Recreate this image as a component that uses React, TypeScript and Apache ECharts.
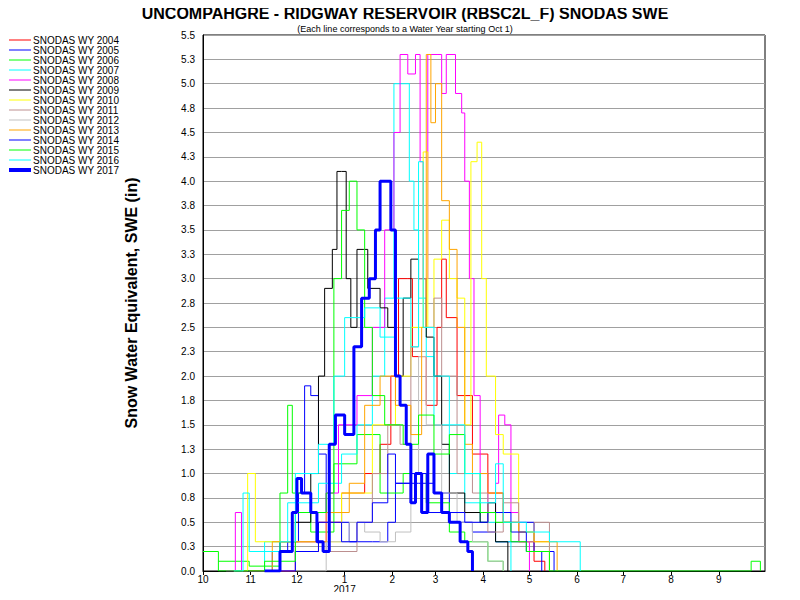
import React, { useEffect, useRef } from "react";
import * as echarts from "echarts";

const names = ["SNODAS WY 2004","SNODAS WY 2005","SNODAS WY 2006","SNODAS WY 2007","SNODAS WY 2008","SNODAS WY 2009","SNODAS WY 2010","SNODAS WY 2011","SNODAS WY 2012","SNODAS WY 2013","SNODAS WY 2014","SNODAS WY 2015","SNODAS WY 2016","SNODAS WY 2017"];
const colors = ["#ff0000","#0000ff","#00ff00","#00ffff","#ff00ff","#000000","#ffff00","#bc8f8f","#c0c0c0","#ffa500","#0000ff","#00ff00","#00ffff","#0000ff"];

const wy2004 = [[40,0],[60,0.2],[75,0.5],[90,0.8],[105,1.0],[115,1.3],[122,2.0],[127,3.0],[133,3.0],[136,2.2],[145,1.7],[152,2.5],[155,3.2],[158,2.6],[165,1.8],[175,1.2],[185,0.8],[195,0.5],[205,0.3],[215,0.1],[222,0]];
const wy2005 = [[30,0],[45,0.2],[55,0.3],[62,0.8],[66,1.9],[70,1.8],[75,1.2],[80,0.6],[90,0.5],[95,0.3],[110,0.3],[120,0.5],[125,0.9],[140,0.9],[150,0.8],[160,0.5],[175,0.4],[190,0.3],[205,0.5],[215,0.2],[228,0]];
const wy2006 = [[10,0.1],[30,0.05],[50,0.8],[55,1.7],[58,0.8],[70,0.4],[85,1.1],[100,1.4],[115,0.8],[130,1.0],[145,0.7],[160,0.4],[170,0.3],[185,0.1],[195,0]];
const wy2007 = [[20,0],[40,0.3],[55,0.7],[75,0.9],[90,1.2],[100,1.5],[110,2.0],[118,2.8],[124,5.0],[131,5.0],[134,4.0],[137,3.5],[140,2.8],[145,2.2],[150,1.5],[160,1.0],[170,0.7],[180,0.5],[190,0.3],[200,0]];
const wy2008 = [[15,0],[21,0.6],[25,0],[60,0.3],[80,0.8],[88,1.5],[100,1.8],[110,2.5],[118,3.5],[124,4.5],[128,5.3],[133,5.1],[138,5.3],[141,4.2],[143,3.0],[146,5.3],[152,5.3],[155,4.9],[158,5.3],[163,5.3],[164,4.9],[168,4.7],[170,4.0],[173,3.0],[176,1.8],[180,1.0],[185,0.6],[190,0.9],[192,1.6],[196,1.5],[200,0.6],[205,0.3],[212,0]];
const wy2009 = [[20,0],[50,0.3],[60,0.5],[70,1.0],[75,2.0],[79,2.9],[84,3.3],[87,4.1],[90,4.1],[93,3.0],[96,2.5],[100,3.3],[104,3.3],[107,2.9],[115,2.7],[120,2.5],[125,2.0],[130,2.8],[135,3.2],[140,3.0],[145,2.4],[150,2.0],[155,1.3],[160,0.8],[170,0.6],[180,0.5],[185,0.7],[190,0.3],[198,0]];
const wy2010 = [[20,0],[29,1.0],[34,0.3],[60,0.3],[90,0.8],[110,1.5],[125,2.0],[135,2.5],[143,4.3],[146,2.5],[150,3.2],[155,3.6],[160,3.0],[165,2.8],[170,1.5],[174,4.2],[178,4.4],[181,3.0],[184,2.0],[190,1.4],[195,1.2],[205,0.4],[215,0.3],[225,0]];
const wy2011 = [[50,0],[60,0.3],[80,0.2],[100,0.5],[110,1.0],[120,1.5],[128,1.3],[135,2.3],[140,3.0],[145,2.5],[150,2.8],[155,2.0],[165,1.0],[175,0.8],[185,0.4],[195,0.7],[205,0.3],[215,0.5],[225,0]];
const wy2012 = [[60,0],[80,0.3],[95,0.5],[105,0.4],[115,0.3],[125,0.4],[135,1.0],[140,2.2],[145,1.5],[155,0.8],[165,0.5],[175,0.3],[185,0.1],[195,0]];
const wy2013 = [[30,0],[45,0.3],[60,0.3],[80,0.6],[95,0.9],[105,1.7],[115,2.0],[125,1.7],[135,1.4],[142,2.5],[145,5.3],[148,4.6],[151,5.0],[155,3.8],[160,3.3],[165,2.5],[170,1.3],[175,1.0],[185,0.8],[195,0.5],[205,0.4],[215,0.3],[230,0]];
const wy2014 = [[40,0],[60,0.2],[75,0.5],[90,0.3],[100,0.5],[110,0.7],[120,1.2],[125,0.9],[135,1.0],[145,0.6],[155,0.6],[170,0.5],[185,0.6],[200,0.4],[210,0.2],[220,0]];
const wy2015 = [[0,0.2],[10,0],[40,0.1],[60,0.6],[80,0.8],[85,3.0],[90,3.7],[95,4.0],[100,3.5],[105,2.5],[110,1.8],[118,1.5],[130,1.3],[140,1.6],[150,1.2],[160,1.4],[170,1.0],[180,0.6],[190,0.5],[200,0.3],[210,0.2],[225,0],[350,0],[356,0.1],[362,0]];
const wy2016 = [[20,0],[26,0.8],[30,0.2],[50,0.3],[60,1.0],[75,1.3],[85,2.0],[92,2.6],[105,2.7],[115,2.4],[125,2.8],[135,2.3],[140,4.2],[143,2.5],[150,2.0],[160,1.5],[170,1.0],[180,0.7],[190,1.1],[195,0.5],[210,0.4],[225,0.3],[245,0]];
const wy2017 = [[40,0],[50,0.2],[58,0.6],[61,0.95],[64,0.8],[70,0.6],[74,0.3],[78,0.2],[82,1.3],[86,1.6],[92,1.4],[98,2.3],[103,2.8],[108,3.0],[112,3.5],[115,4.0],[119,4.0],[122,3.5],[125,2.0],[128,1.7],[132,1.3],[135,0.7],[138,1.0],[142,0.6],[146,1.2],[150,0.8],[155,0.6],[160,0.5],[167,0.3],[172,0.2],[175,0]];
const allData = [wy2004,wy2005,wy2006,wy2007,wy2008,wy2009,wy2010,wy2011,wy2012,wy2013,wy2014,wy2015,wy2016,wy2017];

const monthDays = [0,31,61,92,123,151,182,212,243,273,304,335];
const monthLabels = ["10","11","12","1","2","3","4","5","6","7","8","9"];

export default function App() {
  const ref = useRef<HTMLDivElement>(null);
  useEffect(() => {
    const chart = echarts.init(ref.current!, null, { renderer: "svg" });
    chart.setOption({
      animation: false,
      title: {
        text: "UNCOMPAHGRE - RIDGWAY RESERVOIR (RBSC2L_F) SNODAS SWE",
        subtext: "(Each line corresponds to a Water Year starting Oct 1)",
        left: 400, top: 0, textAlign: "center", itemGap: 3,
        textStyle: { fontFamily: "Arial", fontSize: 16, fontWeight: "bold", color: "#000" },
        subtextStyle: { fontFamily: "Arial", fontSize: 9, color: "#000" },
      },
      legend: {
        orient: "vertical", left: 4, top: 30, itemGap: 0, itemWidth: 22, itemHeight: 10,
        textStyle: { fontFamily: "Arial", fontSize: 10, color: "#000", padding: [0, 0, 0, -3] },
        data: names.map((n, i) => ({
          name: n,
          icon: i === 13 ? "path://M0,3 L22,3 L22,7 L0,7 Z" : "path://M0,4.5 L22,4.5 L22,5.5 L0,5.5 Z",
        })),
      },
      grid: { left: 203, right: 35, top: 35, bottom: 29, show: true, borderColor: "#000", borderWidth: 1 },
      xAxis: {
        type: "value", min: 0, max: 365,
        axisLine: { lineStyle: { color: "#000" } },
        splitLine: { show: false },
        axisTick: { customValues: monthDays, length: 4, lineStyle: { color: "#000" } },
        axisLabel: {
          customValues: monthDays, color: "#000", fontFamily: "Arial", fontSize: 10, margin: 3,
          formatter: (v: number) => { const i = monthDays.indexOf(v); return i === 3 ? "1\n2017" : monthLabels[i]; },
        },
      },
      yAxis: {
        type: "value", min: 0, max: 5.5, interval: 0.25,
        name: "Snow Water Equivalent, SWE (in)", nameLocation: "middle", nameGap: 64,
        nameTextStyle: { fontFamily: "Arial", fontSize: 16, fontWeight: "bold", color: "#000" },
        axisLine: { show: true, lineStyle: { color: "#000" } },
        axisTick: { show: false },
        splitLine: { lineStyle: { color: "#a0a0a0" } },
        axisLabel: { color: "#000", fontFamily: "Arial", fontSize: 10, margin: 8, formatter: (v: number) => v.toFixed(1) },
      },
      series: allData.map((d, i) => ({
        name: names[i], type: "line", data: d, step: "end", showSymbol: false, symbol: "none",
        lineStyle: { color: colors[i], width: i === 13 ? 3 : 1 }, itemStyle: { color: colors[i] },
        z: i === 13 ? 5 : 2,
      })),
    });
    return () => chart.dispose();
  }, []);
  return <div ref={ref} style={{ width: 800, height: 600, margin: -8 }} />;
}
